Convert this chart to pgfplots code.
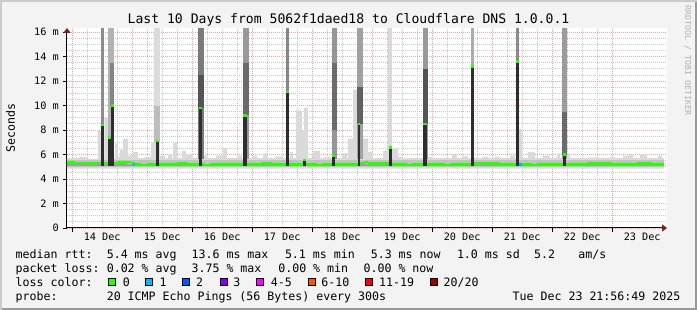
\documentclass[border=0pt]{standalone}
\usepackage{fontspec}
\setmainfont{DejaVu Sans Mono}
\usepackage{pgfplots}
\pgfplotsset{compat=1.18}
\usepgfplotslibrary{fillbetween}
\usetikzlibrary{arrows.meta}
\definecolor{bgc}{HTML}{F3F3F3}
\definecolor{shadeA}{HTML}{CBCBCB}
\definecolor{shadeB}{HTML}{999999}
\definecolor{mgridc}{HTML}{F0A0A0}
\definecolor{gridc}{HTML}{C8C8C8}
\definecolor{arrowc}{HTML}{8B1A1A}
\definecolor{smokeL}{HTML}{DADADA}
\definecolor{smokeM}{HTML}{C2C2C2}
\definecolor{smokeD}{HTML}{A0A0A0}
\definecolor{darkbar}{HTML}{2E2E2E}
\definecolor{lc0}{HTML}{26FF00}
\definecolor{lc1}{HTML}{00B8FF}
\definecolor{lc2}{HTML}{0059FF}
\definecolor{lc3}{HTML}{7E00FF}
\definecolor{lc4}{HTML}{FF00FF}
\definecolor{lc5}{HTML}{FF5500}
\definecolor{lc6}{HTML}{FF0000}
\definecolor{lc7}{HTML}{A10000}
\newcommand\lfont{\fontsize{11.6}{12}\selectfont}
\newcommand\tfont{\fontsize{13.1}{14}\selectfont}
\newcommand\afont{\fontsize{10.2}{11}\selectfont}
\newcommand\wfont{\fontsize{8.3}{9}\selectfont}
% one smoke column: x from, x to, y from, y to, colour
\newcommand\smk[5]{\addplot[fill=#5,draw=none] coordinates {(#1,#3)(#1,#4)(#2,#4)(#2,#3)};}
\begin{document}
\begin{tikzpicture}[x=1pt,y=1pt]
\useasboundingbox (0,0) rectangle (697,310);
\fill[bgc] (0,0) rectangle (697,310);
\fill[shadeA] (0,0) rectangle (2,310);
\fill[shadeA] (0,308) rectangle (697,310);
\fill[shadeB] (695,0) rectangle (697,308);
\fill[shadeB] (2,0) rectangle (697,2);
\begin{axis}[
  at={(67pt,82pt)}, anchor=south west,
  scale only axis, width=600pt, height=200pt,
  xmin=21.93, xmax=261.93, ymin=0, ymax=16.33,
  axis background/.style={fill=white},
  axis lines=left,
  axis line style={line width=1pt, black},
  x axis line style={-{Triangle[length=5pt,width=7pt,color=arrowc]}},
  y axis line style={-{Triangle[length=5pt,width=7pt,color=arrowc]}},
  tick align=outside, major tick length=4pt, minor tick length=0pt,
  tick style={black, line width=0.8pt},
  xtick={24,48,...,240}, xticklabels={},
  minor x tick num=3,
  extra x ticks={36,60,84,108,132,156,180,204,228,252},
  extra x tick labels={14 Dec,15 Dec,16 Dec,17 Dec,18 Dec,19 Dec,20 Dec,21 Dec,22 Dec,23 Dec},
  extra x tick style={grid=none, major tick length=0pt},
  ytick={0,2,...,16},
  yticklabels={0,2 m,4 m,6 m,8 m,10 m,12 m,14 m,16 m},
  minor y tick num=3,
  grid=both,
  major grid style={mgridc, line width=0.8pt, dash pattern=on 1pt off 1pt},
  minor grid style={gridc, line width=0.8pt, dash pattern=on 1pt off 1pt},
  xticklabel style={font=\afont, inner sep=0pt, anchor=base, yshift=-13pt},
  yticklabel style={font=\afont, inner sep=0pt, anchor=east, xshift=-4pt},
]
% light smoke envelope (base 4.85 ms)
\addplot[const plot, fill=smokeL, draw=none] coordinates {
(21.93,4.85)(21.93,5.7)(27.2,5.8)(30.4,5.65)(34.4,7.9)(35.6,5.7)(36.92,9.0)(38.28,5.7)
(41.2,6.9)(42.4,5.8)(43.2,6.4)(44.4,7.3)(46.4,5.9)(48.4,6.2)(50.4,5.7)(53.2,5.8)
(55.6,7.0)(56.8,5.7)(59.2,5.9)(61.2,5.7)(62.4,6.0)(64.0,5.7)(64.4,7.0)(66.0,5.7)
(68.0,6.3)(69.6,6.0)(72.4,5.7)(76.8,5.9)(78.4,5.7)(81.6,5.9)(84.4,6.5)(86.0,5.7)
(90.4,5.9)(92.0,5.7)(96.4,5.9)(98.0,5.7)(100.4,6.1)(102.0,5.7)(105.2,5.85)(108.0,5.7)
(111.2,6.2)(112.4,5.7)(113.6,9.6)(116.0,8.0)(116.8,9.8)(118.4,5.7)(120.4,6.3)(123.2,5.7)
(125.2,5.8)(127.2,5.7)(132.0,6.1)(134.0,5.7)(134.4,7.3)(136.4,11.3)(138.0,5.7)(140.4,7.3)
(142.4,6.2)(144.4,5.7)(148.4,6.3)(150.4,5.7)(152.0,6.5)(154.4,5.8)(156.0,5.7)(166.4,5.8)
(168.4,5.7)(176.0,6.0)(178.0,5.7)(180.0,5.85)(182.4,5.7)(188.0,5.8)(190.4,5.7)(193.2,5.8)
(195.2,5.7)(199.2,5.9)(201.2,5.7)(202.8,8.1)(204.0,5.7)(206.4,6.2)(209.2,5.7)(212.4,5.9)
(215.2,5.7)(218.0,6.1)(219.2,5.7)(222.0,6.1)(223.2,5.7)(230.4,5.75)(234.0,5.7)(239.2,5.8)
(241.2,5.7)(244.4,5.9)(246.4,6.0)(248.4,5.7)(251.2,6.0)(254.0,5.7)(258.4,5.9)(260.0,5.7)
(260.8,5.7)(260.8,4.85)};
% inner smoke bands
\smk{21.93}{260.8}{5.0}{5.58}{smokeM}
\smk{21.93}{260.8}{5.06}{5.24}{smokeD}
% spike columns: upper grey parts
\smk{35.6}{36.92}{5.6}{16.33}{black!45}
\smk{38.4}{40.92}{5.6}{16.33}{black!30}
\smk{39.2}{40.92}{10.0}{13.5}{black!48}
\smk{56.8}{59.2}{5.6}{16.33}{black!14}
\smk{56.8}{59.2}{7.0}{10.0}{black!26}
\smk{74.4}{76.8}{5.6}{16.33}{black!52}
\smk{74.4}{76.8}{9.8}{12.5}{black!67}
\smk{92.52}{94.92}{5.6}{16.33}{black!40}
\smk{92.52}{94.92}{9.2}{13.5}{black!58}
\smk{109.48}{110.8}{5.6}{16.33}{black!47}
\smk{127.88}{130.12}{5.6}{16.33}{black!41}
\smk{127.88}{130.12}{8.0}{13.5}{black!58}
\smk{138.0}{140.4}{5.6}{16.33}{black!37}
\smk{138.0}{140.4}{8.5}{11.5}{black!62}
\smk{150.52}{152.12}{5.6}{16.33}{black!15}
\smk{164.52}{166.52}{5.6}{16.33}{black!40}
\smk{164.52}{166.52}{8.5}{13.0}{black!67}
\smk{183.6}{184.8}{5.6}{16.33}{black!33}
\smk{201.6}{202.8}{5.6}{16.33}{black!46}
\smk{220.0}{222.0}{5.6}{16.33}{black!39}
\smk{220.0}{222.0}{6.0}{9.5}{black!58}
% dark lower parts of the spikes (up to the median)
\smk{35.6}{36.68}{5.05}{8.4}{darkbar}
\smk{38.28}{39.6}{5.05}{7.4}{darkbar}
\smk{39.6}{40.92}{5.05}{10.0}{darkbar}
\smk{57.48}{58.8}{5.05}{7.1}{darkbar}
\smk{74.6}{76.12}{5.05}{9.8}{darkbar}
\smk{92.52}{94.0}{5.05}{9.2}{darkbar}
\smk{109.48}{110.68}{5.05}{11.1}{darkbar}
\smk{116.28}{117.48}{5.05}{5.55}{darkbar}
\smk{127.88}{129.08}{5.05}{5.9}{darkbar}
\smk{138.28}{139.32}{5.05}{8.5}{darkbar}
\smk{150.68}{151.88}{5.05}{6.6}{darkbar}
\smk{164.52}{165.88}{5.05}{8.5}{darkbar}
\smk{183.6}{184.68}{5.05}{13.2}{darkbar}
\smk{201.6}{202.68}{5.05}{13.6}{darkbar}
\smk{220.52}{221.6}{5.05}{6.0}{darkbar}
% median rtt, coloured by loss (0 lost)
\addplot[jump mark left, line width=2.7pt, color=lc0] coordinates {
(21.93,5.35)(25.2,5.3)(30.4,5.25)(33.2,5.3)(35.6,8.4)(36.8,5.3)(38.28,7.4)(39.6,10.0)
(40.92,5.3)(42.4,5.35)(46.0,5.4)(47.6,5.25)(49.0,5.2)(51.6,5.15)(54.0,5.2)(57.48,7.1)
(58.8,5.2)(66.0,5.25)(70.0,5.2)(74.6,9.8)(76.12,5.2)(77.2,5.15)(79.2,5.2)(92.52,9.2)
(94.0,5.2)(100.0,5.25)(104.0,5.2)(109.48,11.1)(110.68,5.2)(116.4,5.55)(117.6,5.2)(122.0,5.15)
(124.0,5.2)(127.88,5.9)(129.08,5.2)(138.28,8.5)(139.32,5.3)(141.0,5.4)(142.5,5.25)(150.68,6.6)
(151.88,5.2)(158.0,5.15)(160.0,5.2)(164.52,8.5)(165.88,5.2)(173.2,5.15)(175.2,5.2)(183.6,13.2)
(184.68,5.25)(187.2,5.3)(189.2,5.25)(195.0,5.2)(201.6,13.6)(202.68,5.2)(208.0,5.15)(210.0,5.2)
(220.52,6.0)(221.6,5.2)(230.0,5.25)(240.0,5.2)(250.0,5.25)(256.0,5.2)(260.8,5.2)};
% median rtt with 1 packet lost
\addplot[jump mark left, line width=2.7pt, color=lc1] coordinates {(48.2,5.2)(49.0,5.2)};
\addplot[jump mark left, line width=2.7pt, color=lc1] coordinates {(202.92,5.2)(204.0,5.2)};
\end{axis}
% titles and labels
\node[anchor=base, font=\tfont] at (348.5,286) {Last 10 Days from 5062f1daed18 to Cloudflare DNS 1.0.0.1};
\node[rotate=90, anchor=base, font=\lfont] at (15,182) {Seconds};
\node[rotate=-90, anchor=base west, font=\wfont, text=black!30, inner sep=0pt] at (685,305) {RRDTOOL / TOBI OETIKER};
% legend
\begin{scope}[every node/.style={anchor=base west, inner sep=0pt, font=\lfont}]
\node at (15.5,51.7) {median rtt:};
\node at (106.6,51.7) {5.4 ms avg};
\node at (191.4,51.7) {13.6 ms max};
\node at (284.8,51.7) {5.1 ms min};
\node at (370.6,51.7) {5.3 ms now};
\node at (456.8,51.7) {1.0 ms sd};
\node at (534,51.7) {5.2};
\node at (578.1,51.7) {am/s};
\node at (15.5,37.7) {packet loss:};
\node at (106.6,37.7) {0.02 \% avg};
\node at (191.4,37.7) {3.75 \% max};
\node at (278.1,37.7) {0.00 \% min};
\node at (363.4,37.7) {0.00 \% now};
\node at (15.5,23.7) {loss color:};
\node at (122.6,23.7) {0};
\node at (159.4,23.7) {1};
\node at (195.9,23.7) {2};
\node at (233.2,23.7) {3};
\node at (270.6,23.7) {4-5};
\node at (321.2,23.7) {6-10};
\node at (379,23.7) {11-19};
\node at (443.4,23.7) {20/20};
\node at (15.5,9.7) {probe:};
\node at (106.6,9.7) {20 ICMP Echo Pings (56 Bytes) every 300s};
\node[anchor=base east] at (680.5,9.7) {Tue Dec 23 21:56:49 2025};
\end{scope}
\begin{scope}[every node/.style={draw=black, line width=1pt, minimum width=7pt, minimum height=7pt, inner sep=0pt}]
\node[fill=lc0] at (112.4,28) {};
\node[fill=lc1] at (149.3,28) {};
\node[fill=lc2] at (186.2,28) {};
\node[fill=lc3] at (223.6,28) {};
\node[fill=lc4] at (260.4,28) {};
\node[fill=lc5] at (311.6,28) {};
\node[fill=lc6] at (369.3,28) {};
\node[fill=lc7] at (434.2,28) {};
\end{scope}
\end{tikzpicture}
\end{document}
